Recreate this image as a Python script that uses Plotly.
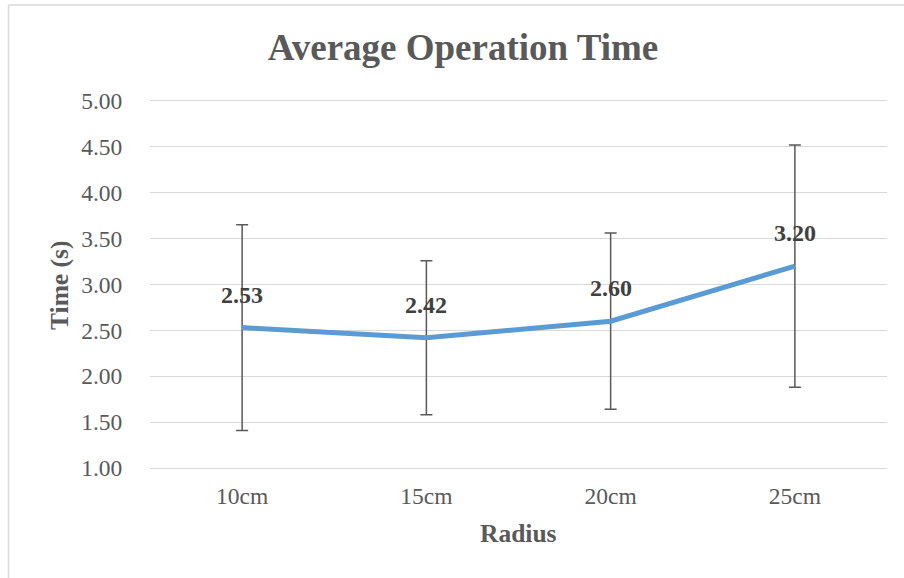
import plotly.graph_objects as go

categories = ["10cm", "15cm", "20cm", "25cm"]
avg_time = [2.53, 2.42, 2.60, 3.20]
err = [1.12, 0.84, 0.96, 1.32]
label_text = ["2.53", "2.42", "2.60", "3.20"]
y_ticks = [1.0, 1.5, 2.0, 2.5, 3.0, 3.5, 4.0, 4.5, 5.0]
y_tick_labels = ["1.00", "1.50", "2.00", "2.50", "3.00", "3.50", "4.00", "4.50", "5.00"]

FONT = "Liberation Serif, Times New Roman, serif"
GREY = "#595959"

W, H = 904, 578
L, T, R, B = 150, 101, 17, 110
PW, PH = W - L - R, H - T - B

def px(x):
    return (x - L) / PW

def py(y):
    return (H - B - y) / PH

fig = go.Figure()
fig.add_trace(go.Scatter(
    x=categories, y=avg_time, mode="lines",
    line=dict(color="#5B9BD5", width=5),
    error_y=dict(type="data", array=err, visible=True, color=GREY, thickness=1.5, width=6),
    showlegend=False, hoverinfo="skip",
))

for c, v, t in zip(categories, avg_time, label_text):
    fig.add_annotation(x=c, y=v, text="<b>%s</b>" % t, showarrow=False, yshift=33,
                       font=dict(family=FONT, size=24, color="#404040"))

# axis titles
fig.add_annotation(xref="paper", yref="paper", x=px(59), y=py(286), text="<b>Time (s)</b>",
                   textangle=-90, showarrow=False, xanchor="center", yanchor="middle",
                   font=dict(family=FONT, size=25.5, color=GREY))
fig.add_annotation(xref="paper", yref="paper", x=px(518), y=py(533), text="<b>Radius</b>",
                   showarrow=False, xanchor="center", yanchor="middle",
                   font=dict(family=FONT, size=25.5, color=GREY))

fig.update_layout(
    width=W, height=H,
    margin=dict(l=L, r=R, t=T, b=B),
    paper_bgcolor="white", plot_bgcolor="white",
    title=dict(text="<b>Average Operation Time</b>", x=463 / W, xanchor="center",
               y=1 - 47.5 / H, yanchor="middle",
               font=dict(family=FONT, size=37, color=GREY)),
    xaxis=dict(range=[-0.5, 3.5], showgrid=False, zeroline=False,
               showline=True, mirror=True, linecolor="#D9D9D9", linewidth=1,
               ticks="outside", ticklen=7, tickcolor="rgba(0,0,0,0)",
               tickfont=dict(family=FONT, size=23.5, color=GREY)),
    yaxis=dict(range=[1.0, 5.0], tickvals=y_ticks, ticktext=y_tick_labels,
               showgrid=True, gridcolor="#D9D9D9", gridwidth=1, zeroline=False, showline=False,
               ticks="outside", ticklen=22, tickcolor="rgba(0,0,0,0)",
               tickfont=dict(family=FONT, size=23.5, color=GREY)),
    font=dict(family=FONT),
)

# chart border (top and left edges visible in frame)
fig.add_shape(type="line", xref="paper", yref="paper", x0=px(8.5), x1=px(W + 10),
              y0=py(5), y1=py(5), line=dict(color="#D9D9D9", width=1.5))
fig.add_shape(type="line", xref="paper", yref="paper", x0=px(8.5), x1=px(8.5),
              y0=py(5), y1=py(H + 10), line=dict(color="#D9D9D9", width=1.5))

fig.write_html("out.html", config={"displayModeBar": False},
               post_script="document.body.style.margin='0';")
